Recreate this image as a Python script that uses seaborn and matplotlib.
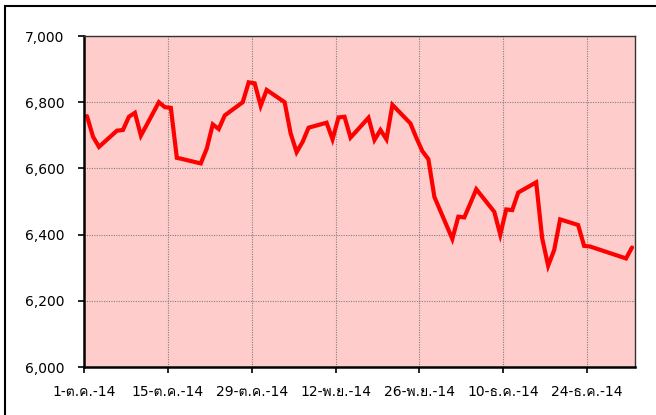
import matplotlib
matplotlib.use("Agg")
import matplotlib.pyplot as plt
from matplotlib.patches import Rectangle
import seaborn as sns
import pandas as pd

# ---- data ----
dates = [
    "2014-10-01", "2014-10-02", "2014-10-03", "2014-10-06", "2014-10-07", "2014-10-08",
    "2014-10-09", "2014-10-10", "2014-10-13", "2014-10-14", "2014-10-15", "2014-10-16",
    "2014-10-17", "2014-10-20", "2014-10-21", "2014-10-22", "2014-10-23", "2014-10-24",
    "2014-10-27", "2014-10-28", "2014-10-29", "2014-10-30", "2014-10-31", "2014-11-03",
    "2014-11-04", "2014-11-05", "2014-11-06", "2014-11-07", "2014-11-10", "2014-11-11",
    "2014-11-12", "2014-11-13", "2014-11-14", "2014-11-17", "2014-11-18", "2014-11-19",
    "2014-11-20", "2014-11-21", "2014-11-24", "2014-11-25", "2014-11-26", "2014-11-27",
    "2014-11-28", "2014-12-01", "2014-12-02", "2014-12-03", "2014-12-04", "2014-12-05",
    "2014-12-08", "2014-12-09", "2014-12-10", "2014-12-11", "2014-12-12", "2014-12-15",
    "2014-12-16", "2014-12-17", "2014-12-18", "2014-12-19", "2014-12-22", "2014-12-23",
    "2014-12-24", "2014-12-30", "2014-12-31",
]
values = [
    6758, 6696, 6665, 6714, 6716, 6756,
    6768, 6699, 6800, 6785, 6783, 6632,
    6628, 6615, 6660, 6733, 6719, 6760,
    6800, 6860, 6857, 6789, 6837, 6800,
    6706, 6649, 6680, 6723, 6738, 6688,
    6754, 6756, 6693, 6753, 6686, 6716,
    6688, 6792, 6736, 6692, 6652, 6628,
    6514, 6387, 6454, 6452, 6494, 6537,
    6469, 6400, 6476, 6474, 6527, 6558,
    6389, 6306, 6353, 6446, 6429, 6366,
    6364, 6328, 6361,
]
tick_dates = ["2014-10-01", "2014-10-15", "2014-10-29", "2014-11-12",
              "2014-11-26", "2014-12-10", "2014-12-24"]
tick_labels = ["1-ต.ค.-14", "15-ต.ค.-14", "29-ต.ค.-14", "12-พ.ย.-14",
               "26-พ.ย.-14", "10-ธ.ค.-14", "24-ธ.ค.-14"]
y_ticks = [6000, 6200, 6400, 6600, 6800, 7000]

sns.set_theme(style="white")
plt.rcParams['font.family'] = ['DejaVu Sans', 'Loma']

# points sit in the middle of each day's slot (Excel-style date axis)
df = pd.DataFrame({"date": pd.to_datetime(dates) + pd.Timedelta(hours=12),
                   "value": values})

fig = plt.figure(figsize=(6.56, 4.15), dpi=100)
ax = fig.add_axes([84 / 656, 1 - 367 / 415, (635 - 84) / 656, (367 - 36) / 415])
ax.set_facecolor("#FFCCCC")

sns.lineplot(data=df, x="date", y="value", ax=ax, color="#FF0000",
             linewidth=3.0, solid_joinstyle="miter")

ax.set_xlim(pd.Timestamp("2014-10-01"), pd.Timestamp("2015-01-01"))
ax.set_ylim(6000, 7000)
ax.set_yticks(y_ticks)
ax.set_yticklabels([f"{v:,}" for v in y_ticks])
ax.set_xticks(pd.to_datetime(tick_dates))
ax.set_xticklabels(tick_labels)
ax.set_xlabel("")
ax.set_ylabel("")

ax.grid(True, which="major", color="#808080", linestyle=(0, (1, 1.2)), linewidth=0.8)
ax.set_axisbelow(True)

ax.tick_params(axis="both", which="major", direction="out", length=4, width=1.2,
               color="black", labelsize=10, labelcolor="black", bottom=True, left=True)
ax.tick_params(axis="y", pad=10)
ax.tick_params(axis="x", pad=9)

for side in ["left", "bottom"]:
    ax.spines[side].set_color("black")
    ax.spines[side].set_linewidth(1.8)
for side in ["right", "top"]:
    ax.spines[side].set_color("#333333")
    ax.spines[side].set_linewidth(1.0)

# outer chart frame (cropped at right/bottom in the reference)
fig.patches.append(Rectangle((5 / 656, -0.2), 1.3, 1 - 6 / 415 + 0.2,
                             transform=fig.transFigure, fill=False,
                             edgecolor="black", linewidth=1.5))

fig.savefig("out.png", dpi=100)
